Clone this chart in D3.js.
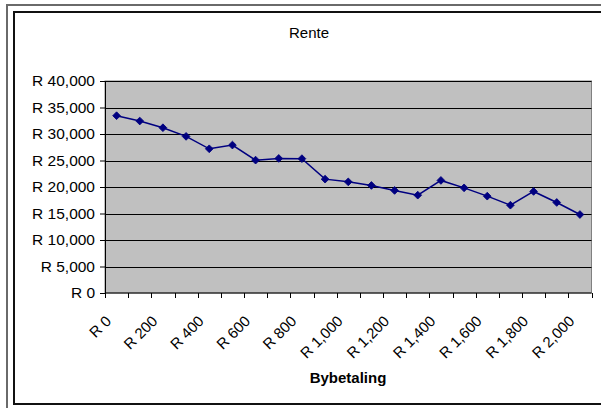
<!DOCTYPE html>
<html>
<head>
<meta charset="utf-8">
<script src="https://cdn.jsdelivr.net/npm/d3@7"></script>
<style>
  html, body { margin: 0; padding: 0; background: #fff; overflow: hidden; }
  svg { display: block; font-family: "Liberation Sans", Arial, sans-serif; }
</style>
</head>
<body>
<svg id="chart" width="601" height="408"></svg>
<script>
// Extra payment per month (Rand)
const payments = [0, 100, 200, 300, 400, 500, 600, 700, 800, 900, 1000,
                  1100, 1200, 1300, 1400, 1500, 1600, 1700, 1800, 1900, 2000];
// Total interest paid (Rand)
const interest = [33450, 32450, 31180, 29550, 27210, 27910, 25070, 25390, 25350, 21480, 20970,
                  20290, 19350, 18460, 21240, 19840, 18270, 16570, 19160, 17080, 14810];
const yTicks = [0, 5000, 10000, 15000, 20000, 25000, 30000, 35000, 40000];
const chartTitle = "Rente";
const xTitle = "Bybetaling";

const rand = v => "R " + d3.format(",")(v);

const svg = d3.select("#chart");
const plot = { left: 105, right: 591.5, top: 81, bottom: 293 };

// Outer frames (right side runs past the edge of the page)
svg.append("path")
  .attr("d", "M601,5 H7 V408")
  .attr("fill", "none").attr("stroke", "#6a6a6a").attr("stroke-width", 2);
svg.append("path")
  .attr("d", "M601,12 H14 V404 H601")
  .attr("fill", "none").attr("stroke", "#111").attr("stroke-width", 2);

const x = d3.scaleBand().domain(payments).range([plot.left, plot.right]);
const y = d3.scaleLinear().domain([0, 40000]).range([plot.bottom, plot.top]);

// Plot area
svg.append("rect")
  .attr("x", plot.left).attr("y", plot.top)
  .attr("width", plot.right - plot.left).attr("height", plot.bottom - plot.top)
  .attr("fill", "#c0c0c0").attr("stroke", "#808080").attr("stroke-width", 1);

// Horizontal gridlines
svg.append("g").selectAll("line").data(yTicks.slice(1)).join("line")
  .attr("x1", plot.left).attr("x2", plot.right)
  .attr("y1", d => Math.round(y(d)) + 0.5).attr("y2", d => Math.round(y(d)) + 0.5)
  .attr("stroke", "#000").attr("stroke-width", 1);

// Y axis
const yAxis = svg.append("g")
  .attr("transform", `translate(${plot.left},0)`)
  .call(d3.axisLeft(y).tickValues(yTicks).tickFormat(rand).tickSize(5).tickPadding(5));
yAxis.select(".domain").attr("stroke", "#000");
yAxis.selectAll(".tick line").attr("stroke", "#000");
yAxis.selectAll("text").attr("font-size", 15.5).attr("fill", "#000")
  .attr("font-family", "Liberation Sans, Arial, sans-serif");

// X axis: ticks on category boundaries
const xAxisG = svg.append("g").attr("transform", `translate(0,${plot.bottom})`);
xAxisG.append("line").attr("x1", plot.left).attr("x2", plot.right)
  .attr("stroke", "#000").attr("stroke-width", 1);
const bounds = payments.map(p => x(p)).concat([plot.right]);
xAxisG.selectAll("line.tk").data(bounds).join("line").attr("class", "tk")
  .attr("x1", d => Math.round(d) + 0.5).attr("x2", d => Math.round(d) + 0.5)
  .attr("y1", 0).attr("y2", 5).attr("stroke", "#000");

// Rotated category labels, every second category
const labelled = payments.filter((p, i) => i % 2 === 0);
xAxisG.selectAll("text").data(labelled).join("text")
  .attr("transform", d => `translate(${x(d) + x.bandwidth() / 2 - 4.5},29) rotate(-45)`)
  .attr("text-anchor", "end")
  .attr("font-size", 15)
  .attr("fill", "#000")
  .text(rand);

// Line series
const cx = (d, i) => x(payments[i]) + x.bandwidth() / 2;
svg.append("path").datum(interest)
  .attr("fill", "none").attr("stroke", "#000080").attr("stroke-width", 1.5)
  .attr("d", d3.line().x(cx).y(d => y(d)));

// Diamond markers
svg.append("g").selectAll("path").data(interest).join("path")
  .attr("transform", (d, i) => `translate(${cx(d, i)},${y(d)}) rotate(45)`)
  .attr("d", d3.symbol().type(d3.symbolSquare).size(30))
  .attr("fill", "#000080").attr("stroke", "#000080").attr("stroke-width", 0.8);

// Titles
svg.append("text").attr("x", 309).attr("y", 38).attr("text-anchor", "middle")
  .attr("font-size", 15).attr("fill", "#000").text(chartTitle);
svg.append("text").attr("x", 348).attr("y", 383).attr("text-anchor", "middle")
  .attr("font-size", 15).attr("font-weight", "bold").attr("fill", "#000").text(xTitle);
</script>
</body>
</html>
